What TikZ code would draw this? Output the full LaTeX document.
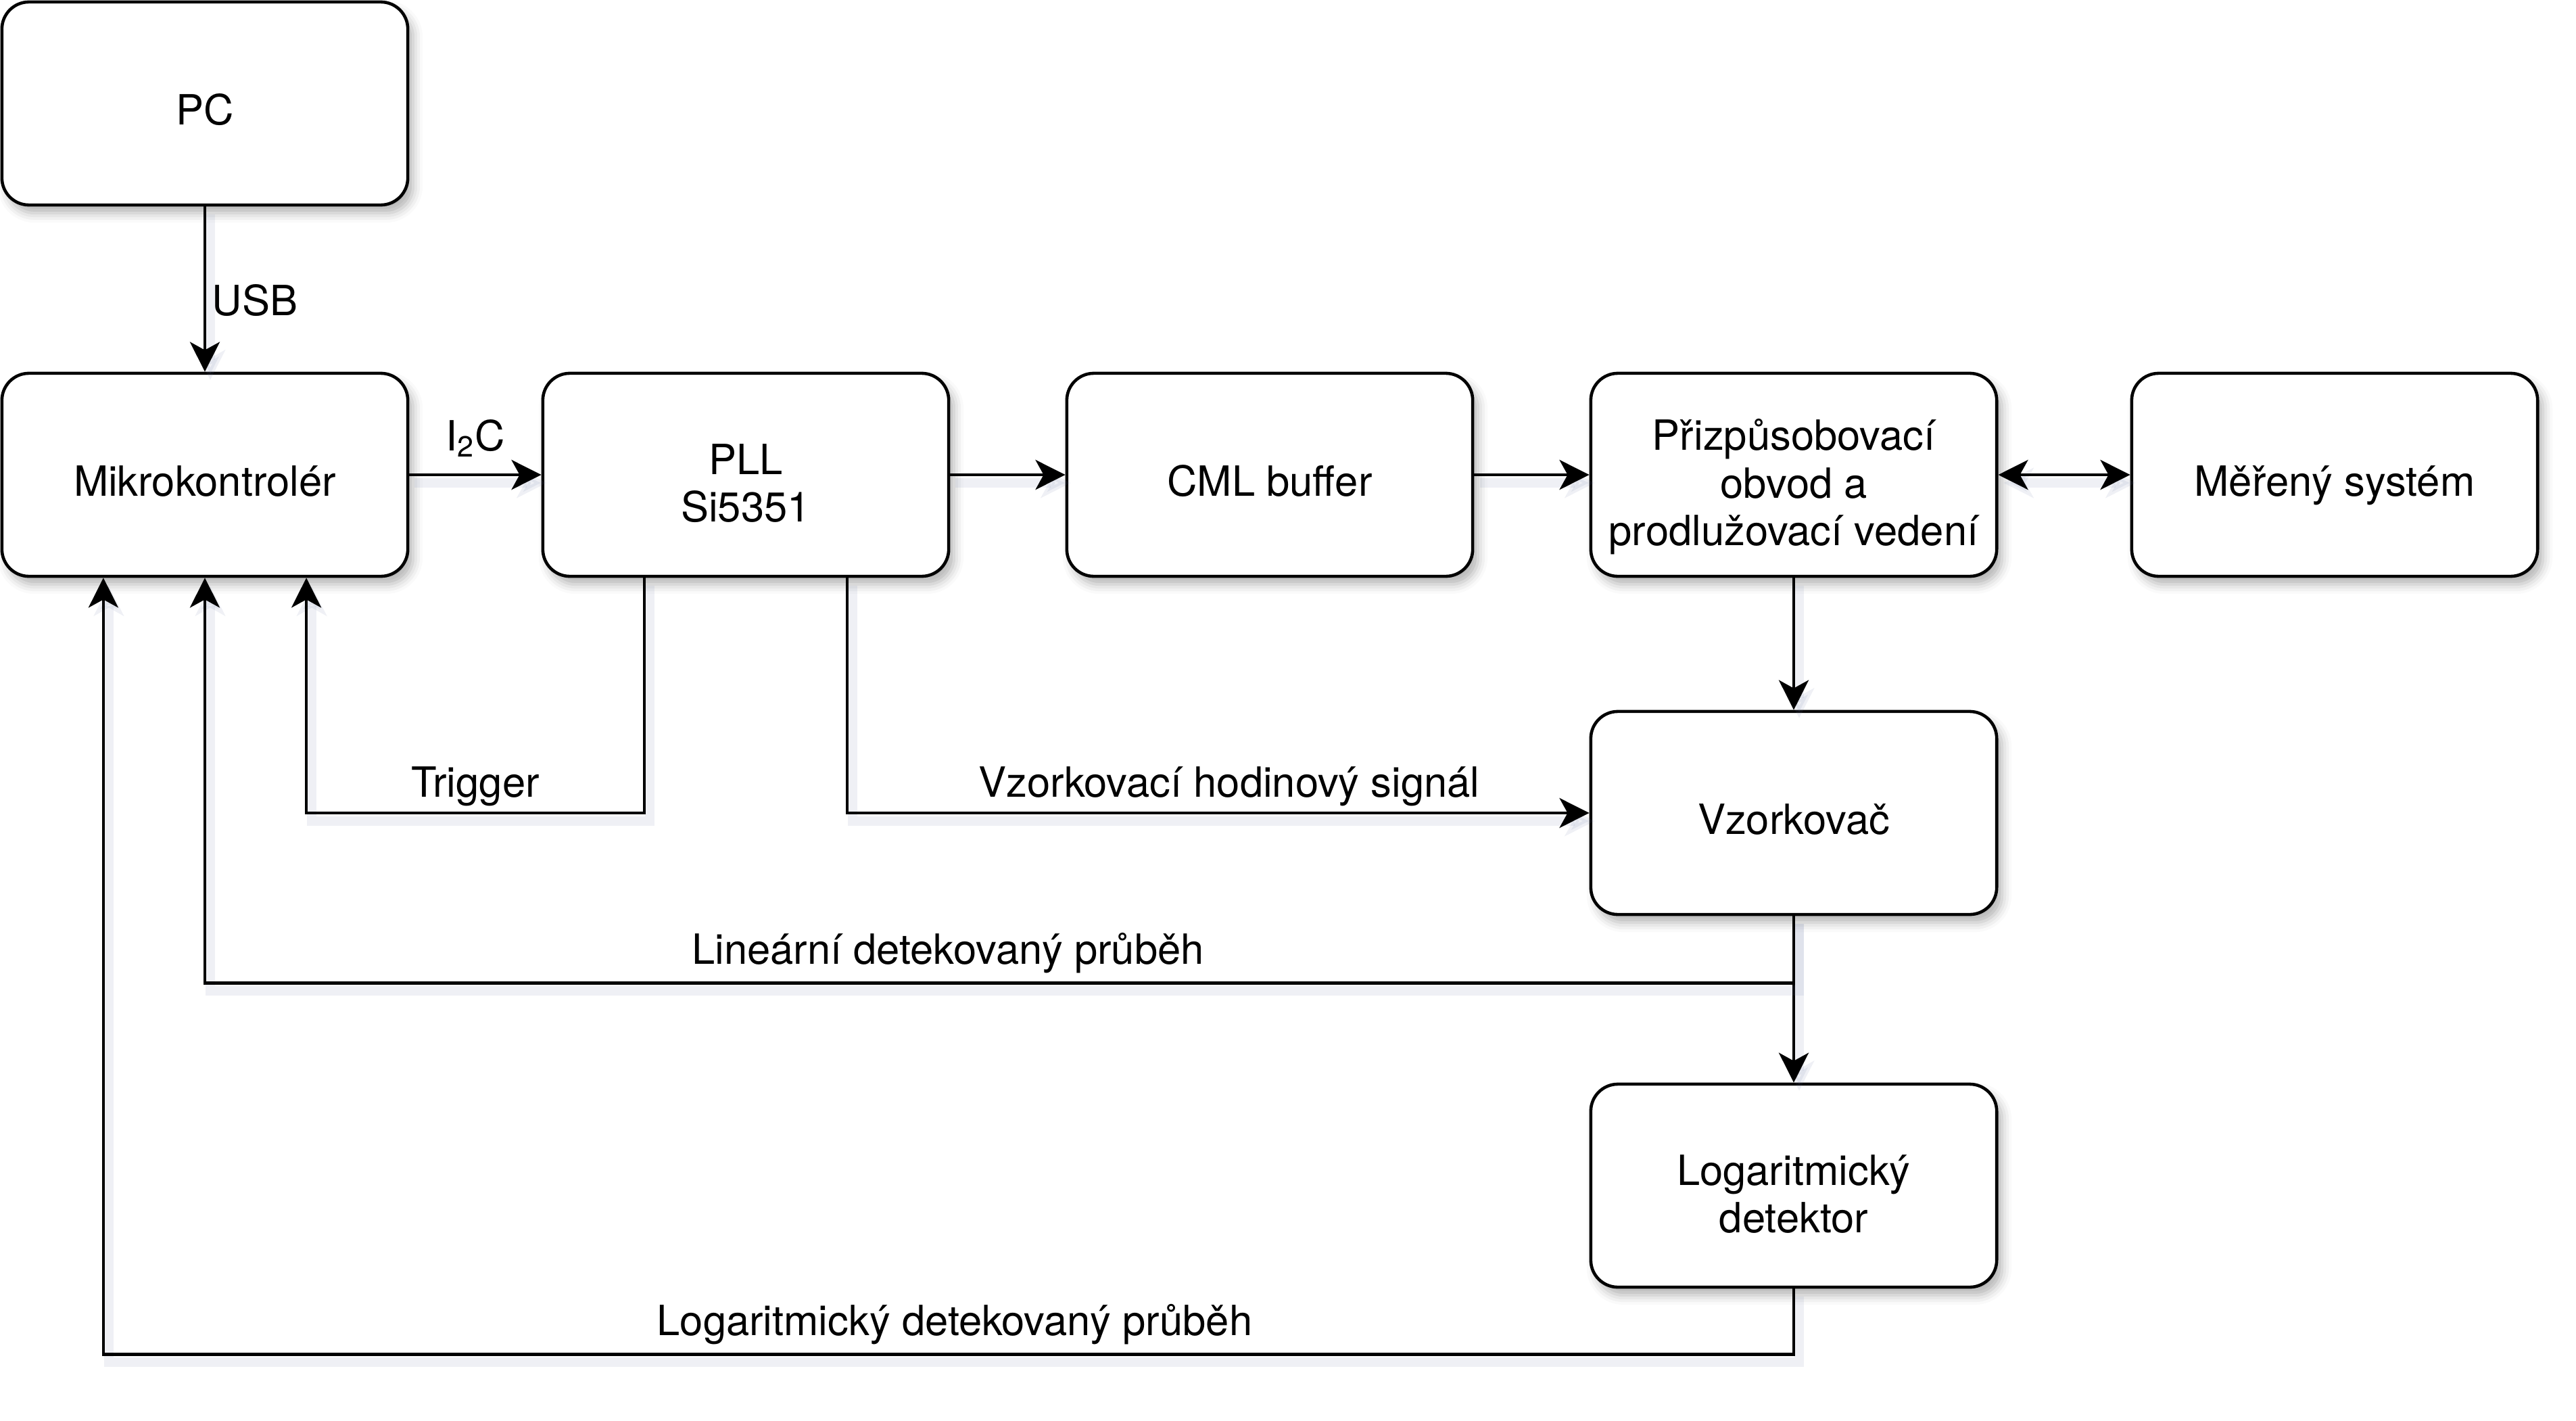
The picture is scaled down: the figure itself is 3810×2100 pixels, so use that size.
\documentclass[tikz,border=0pt]{standalone}
\usepackage{fontspec}
\setmainfont{TeX Gyre Heros}
\usetikzlibrary{arrows.meta,shadows.blur}
\definecolor{shadowblue}{RGB}{120,130,170}
\newcommand\blkstrut{\rule{0pt}{24.5pt}}
\tikzset{
  box/.style={draw, line width=1.3pt, rounded corners=0.4cm, fill=white,
    minimum width=6cm, minimum height=3cm, inner sep=0pt, align=center,
    execute at end node={\rule[-5pt]{0pt}{5pt}},
    blur shadow={shadow xshift=0.08cm, shadow yshift=-0.12cm, shadow blur radius=0.14cm, shadow opacity=30}},
  block/.style={box, execute at begin node={\rule{0pt}{23pt}}},
  multiblock/.style={box},
  wire/.style={line width=1.3pt,
    preaction={draw=shadowblue, opacity=0.12, line width=4pt, transform canvas={shift={(0.08cm,-0.12cm)}}}},
  arr/.style={wire, -{Stealth[length=0.44cm, width=0.44cm, inset=0.12cm]}},
  arrboth/.style={wire, {Stealth[length=0.44cm, width=0.44cm, inset=0.12cm]}-{Stealth[length=0.44cm, width=0.44cm, inset=0.12cm]}},
  lbl/.style={inner sep=0pt, anchor=base}
}
\begin{document}
\begin{tikzpicture}[x=0.01cm, y=-0.01cm, font=\fontsize{17.5}{20}\selectfont]
\useasboundingbox (0,0) rectangle (3810,2100);
% bloky
\node[block] (pc) at (303,153) {PC};
\node[block] (mcu) at (303,702) {Mikrokontrolér};
\node[multiblock] (pll) at (1103,702) {\blkstrut PLL\\Si5351};
\node[block] (cml) at (1878,702) {CML buffer};
\node[multiblock] (match) at (2653,702) {\blkstrut Přizpůsobovací\\obvod a\\prodlužovací vedení};
\node[block] (dut) at (3453,702) {Měřený systém};
\node[block] (sampler) at (2653,1202) {Vzorkovač};
\node[multiblock] (logdet) at (2653,1753) {\blkstrut Logaritmický\\detektor};
% vyvody
\coordinate (mcuL) at ([xshift=-1.5cm]mcu.south);
\coordinate (mcuR) at ([xshift=1.5cm]mcu.south);
\coordinate (pllL) at ([xshift=-1.5cm]pll.south);
\coordinate (pllR) at ([xshift=1.5cm]pll.south);
% spoje
\draw[arr] (pc) -- (mcu);
\draw[arr] (mcu) -- (pll);
\draw[arr] (pll) -- (cml);
\draw[arr] (cml) -- (match);
\draw[arrboth] (match) -- (dut);
\draw[arr] (match) -- (sampler);
\draw[arr] (sampler) -- (logdet);
\draw[arr] (pllL) |- (mcuR |- sampler) -- (mcuR);
\draw[arr] (pllR) |- (sampler.west);
\draw[arr] (sampler.south) -- ++(0,99) -| (mcu.south);
\draw[arr] (logdet.south) -- ++(0,97) -| (mcuL);
% popisky
\node[lbl, anchor=base west] (usb) at (313,466) {USB};
\node[lbl] (i2c) at (703,666) {I\textsubscript{2}C};
\node[lbl] (trig) at (703,1178) {Trigger};
\node[lbl] (clk) at (1818,1178) {Vzorkovací hodinový signál};
\node[lbl] (lin) at (1402,1425) {Lineární detekovaný průběh};
\node[lbl] (log) at (1412,1974) {Logaritmický detekovaný průběh};
\end{tikzpicture}
\end{document}
